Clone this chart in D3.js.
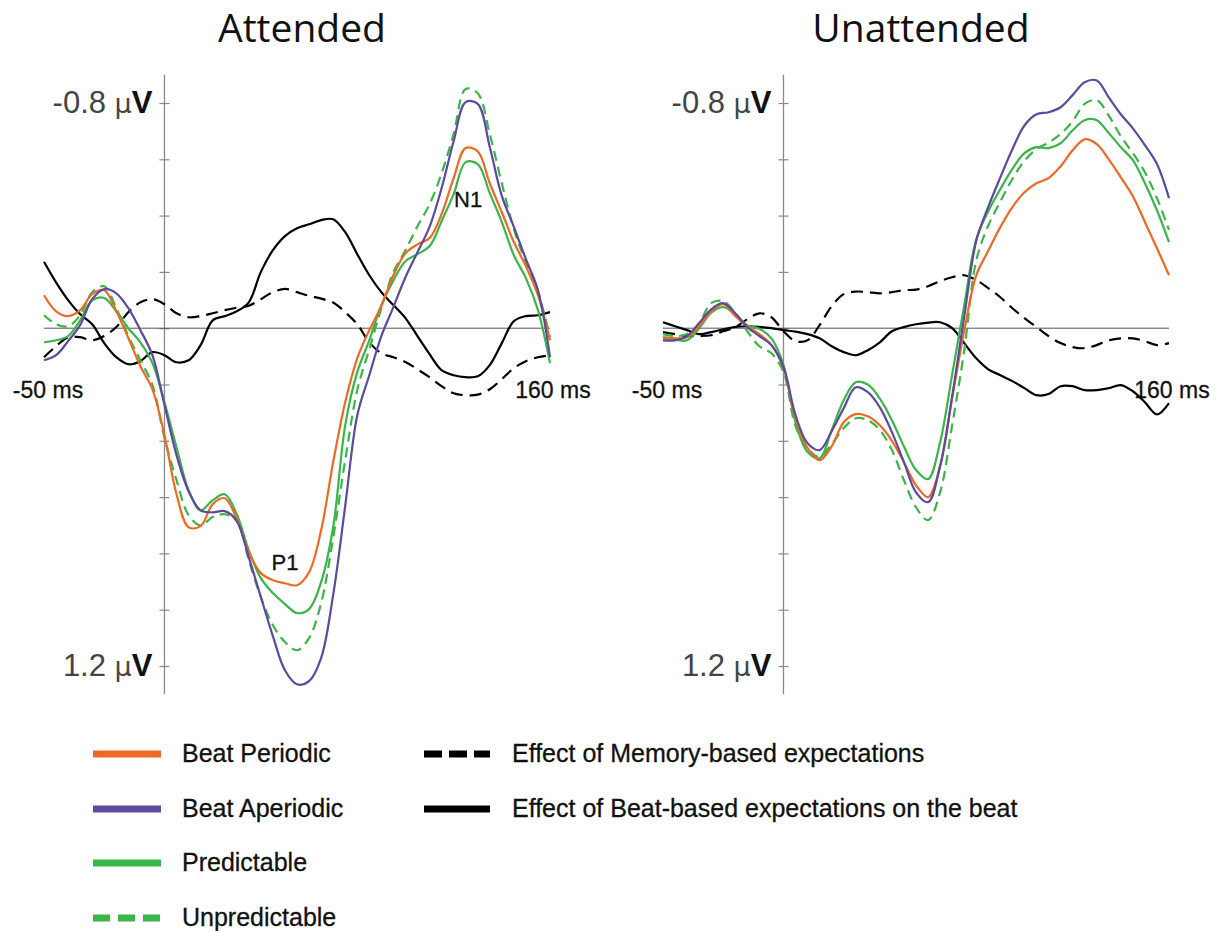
<!DOCTYPE html>
<html>
<head>
<meta charset="utf-8">
<script src="https://cdnjs.cloudflare.com/ajax/libs/d3/7.8.5/d3.min.js"></script>
<style>
  body { margin: 0; background: #fff; }
  svg { display: block; font-family: "Liberation Sans", Arial, sans-serif; }
</style>
</head>
<body>
<script>
// time points (ms)
var times = [-50, -45, -40, -35, -30, -25, -20, -15, -10, -5, 0, 5, 10, 15, 20, 25, 30, 35, 40, 45, 50,
    55, 60, 65, 70, 75, 80, 85, 90, 95, 100, 105, 110, 115, 120, 125, 130, 135, 140, 145, 150, 155, 160];

// Attended (uV, negative up)
var attPeriodic = [-0.117, -0.060, -0.043, -0.064, -0.121, -0.135, -0.060, 0.035, 0.135, 0.217, 0.380, 0.590, 0.707, 0.703, 0.625,
    0.604, 0.678, 0.796, 0.870, 0.895, 0.906, 0.913, 0.867, 0.718, 0.476, 0.263, 0.107, 0.007, -0.078, -0.188, -0.266,
    -0.298, -0.320, -0.405, -0.533, -0.640, -0.628, -0.515, -0.412, -0.306, -0.220, -0.117, 0.043];
var attAperiodic = [0.114, 0.096, 0.046, -0.011, -0.103, -0.139, -0.124, -0.071, 0.007, 0.096, 0.273, 0.451, 0.579, 0.647, 0.654,
    0.650, 0.685, 0.814, 0.955, 1.094, 1.215, 1.265, 1.254, 1.172, 0.948, 0.632, 0.310, 0.167, 0.028, -0.075, -0.181,
    -0.270, -0.360, -0.497, -0.664, -0.803, -0.797, -0.644, -0.470, -0.360, -0.245, -0.135, 0.103];
var attPredictable = [0.050, 0.043, 0.028, -0.028, -0.099, -0.107, -0.060, 0.000, 0.050, 0.124, 0.263, 0.423, 0.575, 0.647, 0.611,
    0.590, 0.661, 0.789, 0.888, 0.941, 0.980, 1.012, 0.998, 0.902, 0.707, 0.345, 0.156, 0.043, -0.082, -0.170, -0.238,
    -0.263, -0.291, -0.380, -0.476, -0.590, -0.583, -0.480, -0.377, -0.259, -0.178, -0.064, 0.124];
var attUnpredictable = [-0.046, -0.014, -0.007, -0.046, -0.128, -0.149, -0.071, 0.028, 0.114, 0.202, 0.390, 0.540, 0.664, 0.700, 0.671,
    0.661, 0.685, 0.824, 0.956, 1.055, 1.115, 1.144, 1.101, 0.977, 0.746, 0.469, 0.220, 0.075, -0.071, -0.199, -0.277,
    -0.362, -0.440, -0.550, -0.690, -0.850, -0.835, -0.690, -0.515, -0.352, -0.234, -0.131, 0.032];
var attMemory = [0.103, 0.064, 0.032, 0.032, 0.043, 0.028, -0.004, -0.057, -0.092, -0.103, -0.085, -0.053, -0.039, -0.043, -0.053,
    -0.064, -0.073, -0.080, -0.103, -0.128, -0.140, -0.128, -0.115, -0.105, -0.091, -0.057, -0.014, 0.050, 0.089, 0.103, 0.120,
    0.146, 0.174, 0.206, 0.231, 0.238, 0.236, 0.217, 0.181, 0.142, 0.117, 0.103, 0.096];
var attBeat = [-0.236, -0.163, -0.100, -0.050, -0.014, 0.053, 0.103, 0.128, 0.117, 0.085, 0.096, 0.121, 0.114, 0.060, -0.028,
    -0.043, -0.060, -0.092, -0.200, -0.277, -0.327, -0.355, -0.369, -0.384, -0.387, -0.341, -0.263, -0.188, -0.128, -0.082, -0.036,
    0.028, 0.092, 0.149, 0.167, 0.174, 0.171, 0.131, 0.053, -0.025, -0.043, -0.046, -0.057];

// Unattended
var unPeriodic = [0.032, 0.036, 0.032, -0.007, -0.060, -0.085, -0.043, -0.007, 0.021, 0.060, 0.142, 0.320, 0.426, 0.469, 0.420,
    0.334, 0.305, 0.313, 0.345, 0.400, 0.476, 0.558, 0.600, 0.490, 0.249, 0.010, -0.188, -0.275, -0.359, -0.430, -0.483,
    -0.515, -0.533, -0.575, -0.632, -0.671, -0.654, -0.600, -0.536, -0.469, -0.377, -0.284, -0.188];
var unAperiodic = [0.043, 0.043, 0.028, -0.018, -0.067, -0.089, -0.053, -0.004, 0.028, 0.060, 0.138, 0.309, 0.409, 0.433, 0.366,
    0.284, 0.210, 0.227, 0.281, 0.369, 0.476, 0.583, 0.618, 0.490, 0.242, -0.040, -0.310, -0.431, -0.536, -0.636, -0.720,
    -0.760, -0.767, -0.785, -0.828, -0.874, -0.880, -0.820, -0.760, -0.710, -0.650, -0.583, -0.462];
var unPredictable = [0.036, 0.041, 0.043, 0.000, -0.055, -0.075, -0.050, -0.010, 0.002, 0.036, 0.130, 0.334, 0.440, 0.462, 0.362,
    0.256, 0.192, 0.200, 0.250, 0.327, 0.420, 0.504, 0.536, 0.405, 0.165, -0.080, -0.316, -0.416, -0.494, -0.566, -0.622,
    -0.643, -0.640, -0.657, -0.703, -0.739, -0.739, -0.693, -0.643, -0.597, -0.515, -0.419, -0.306];
var unUnpredictable = [0.021, 0.028, 0.021, -0.018, -0.089, -0.096, -0.053, 0.011, 0.064, 0.089, 0.156, 0.348, 0.426, 0.458, 0.412,
    0.355, 0.320, 0.327, 0.362, 0.433, 0.540, 0.636, 0.682, 0.583, 0.345, 0.080, -0.240, -0.365, -0.450, -0.530, -0.595,
    -0.636, -0.660, -0.690, -0.735, -0.797, -0.810, -0.755, -0.682, -0.622, -0.554, -0.462, -0.349];
var unMemory = [0.014, 0.021, 0.028, 0.028, 0.025, 0.011, -0.004, -0.032, -0.053, -0.039, 0.011, 0.046, 0.043, -0.011, -0.078,
    -0.121, -0.130, -0.128, -0.124, -0.128, -0.135, -0.137, -0.149, -0.167, -0.181, -0.188, -0.171, -0.142, -0.110, -0.071, -0.036,
    -0.004, 0.028, 0.053, 0.067, 0.071, 0.060, 0.043, 0.036, 0.036, 0.046, 0.060, 0.053];
var unBeat = [-0.021, -0.007, 0.007, 0.021, 0.014, 0.004, -0.005, -0.007, -0.005, 0.000, 0.007, 0.012, 0.021, 0.036, 0.064,
    0.085, 0.096, 0.078, 0.050, 0.011, -0.004, -0.014, -0.020, -0.021, 0.000, 0.053, 0.107, 0.146, 0.167, 0.188, 0.213,
    0.238, 0.234, 0.206, 0.206, 0.220, 0.220, 0.213, 0.202, 0.224, 0.263, 0.306, 0.266];

var titles = ["Attended", "Unattended"];
var seriesNames = ["Beat Periodic", "Beat Aperiodic", "Predictable", "Unpredictable",
    "Effect of Memory-based expectations", "Effect of Beat-based expectations on the beat"];
var yTicks = [-0.8, -0.6, -0.4, -0.2, 0, 0.2, 0.4, 0.6, 0.8, 1.0, 1.2];
var yLabelVals = [-0.8, 1.2];
var yLabels = ["-0.8", "1.2"];
var xLabelVals = [-50, 160];
var xLabels = ["-50 ms", "160 ms"];

var colors = ["#ee6a24", "#5b4a9e", "#3bb44a", "#3bb44a", "#000", "#000"];
var dashes = [null, null, null, "10,6", "12,7", null];
var legendDashes = [null, null, null, "17,8", "18,7", null];

var panels = [
    { x0: 44, x1: 550, data: [attPeriodic, attAperiodic, attPredictable, attUnpredictable, attMemory, attBeat],
      peaks: [{ t: 50, v: 0.86, s: "P1" }, { t: 126, v: -0.43, s: "N1" }] },
    { x0: 663, x1: 1169, data: [unPeriodic, unAperiodic, unPredictable, unUnpredictable, unMemory, unBeat], peaks: [] }
];

var svg = d3.select("body").append("svg")
    .attr("width", 1223)
    .attr("height", 931);

var y = d3.scaleLinear().domain([-0.8, 1.2]).range([103, 666]);
var drawOrder = [4, 5, 3, 2, 0, 1];

panels.forEach(function(p, pi) {
    var x = d3.scaleLinear().domain([-50, 160]).range([p.x0, p.x1]);
    var g = svg.append("g");

    g.append("text")
        .attr("x", (p.x0 + p.x1) / 2 + 5)
        .attr("y", 42)
        .attr("text-anchor", "middle")
        .attr("font-family", "'Open Sans', sans-serif")
        .attr("font-size", 39)
        .attr("fill", "#111")
        .text(titles[pi]);

    // y axis with ticks on both sides
    g.append("line")
        .attr("x1", x(0)).attr("x2", x(0))
        .attr("y1", y(-0.9)).attr("y2", y(1.3))
        .attr("stroke", "#8a8a8a").attr("stroke-width", 1.3);
    var ax = g.append("g")
        .attr("transform", "translate(" + (x(0) + 5) + ",0)")
        .call(d3.axisLeft(y).tickValues(yTicks).tickSize(10).tickFormat(""));
    ax.select(".domain").remove();
    ax.selectAll("line").attr("stroke", "#8a8a8a").attr("stroke-width", 1.2);

    // zero line
    g.append("line")
        .attr("x1", x(-50)).attr("x2", x(160))
        .attr("y1", y(0)).attr("y2", y(0))
        .attr("stroke", "#555").attr("stroke-width", 1);

    yLabelVals.forEach(function(v, i) {
        var t = g.append("text")
            .attr("x", x(0) - 12)
            .attr("y", y(v) + 10)
            .attr("text-anchor", "end")
            .attr("font-size", 31);
        t.append("tspan").attr("fill", "#444").text(yLabels[i] + " ");
        t.append("tspan").attr("fill", "#444").attr("font-family", "'DejaVu Sans', sans-serif")
            .attr("font-size", 27).text("\u03bc");
        t.append("tspan").attr("fill", "#111").attr("font-weight", "bold").text("V");
    });

    xLabelVals.forEach(function(v, i) {
        g.append("text")
            .attr("x", x(v) + (i == 0 ? 4 : 3))
            .attr("y", 398)
            .attr("text-anchor", "middle")
            .attr("font-size", 23)
            .attr("fill", "#111")
            .attr("stroke", "#111").attr("stroke-width", 0.3)
            .text(xLabels[i]);
    });

    var line = d3.line()
        .x(function(d, i) { return x(times[i]); })
        .y(function(d) { return y(d); })
        .curve(d3.curveCatmullRom.alpha(0.5));

    drawOrder.forEach(function(k) {
        g.append("path")
            .datum(p.data[k])
            .attr("d", line)
            .attr("fill", "none")
            .attr("stroke", colors[k])
            .attr("stroke-width", 2.2)
            .attr("stroke-dasharray", dashes[k]);
    });

    p.peaks.forEach(function(pk) {
        g.append("text")
            .attr("x", x(pk.t))
            .attr("y", y(pk.v))
            .attr("text-anchor", "middle")
            .attr("font-size", 22)
            .attr("fill", "#111")
            .attr("stroke", "#111").attr("stroke-width", 0.3)
            .text(pk.s);
    });
});

// legend
var rowY = [754, 809, 863, 918];
seriesNames.forEach(function(name, i) {
    var col = i < 4 ? 0 : 1;
    var row = i < 4 ? i : i - 4;
    var lx = col == 0 ? 93 : 424;
    var lg = svg.append("g").attr("transform", "translate(" + lx + "," + rowY[row] + ")");
    lg.append("line")
        .attr("x1", 0).attr("x2", col == 0 ? 68 : 66)
        .attr("stroke", colors[i])
        .attr("stroke-width", 7)
        .attr("stroke-dasharray", legendDashes[i]);
    lg.append("text")
        .attr("x", col == 0 ? 89 : 88)
        .attr("y", 8)
        .attr("font-size", 25)
        .attr("fill", "#111")
        .attr("stroke", "#111").attr("stroke-width", 0.3)
        .text(name);
});
</script>
</body>
</html>
